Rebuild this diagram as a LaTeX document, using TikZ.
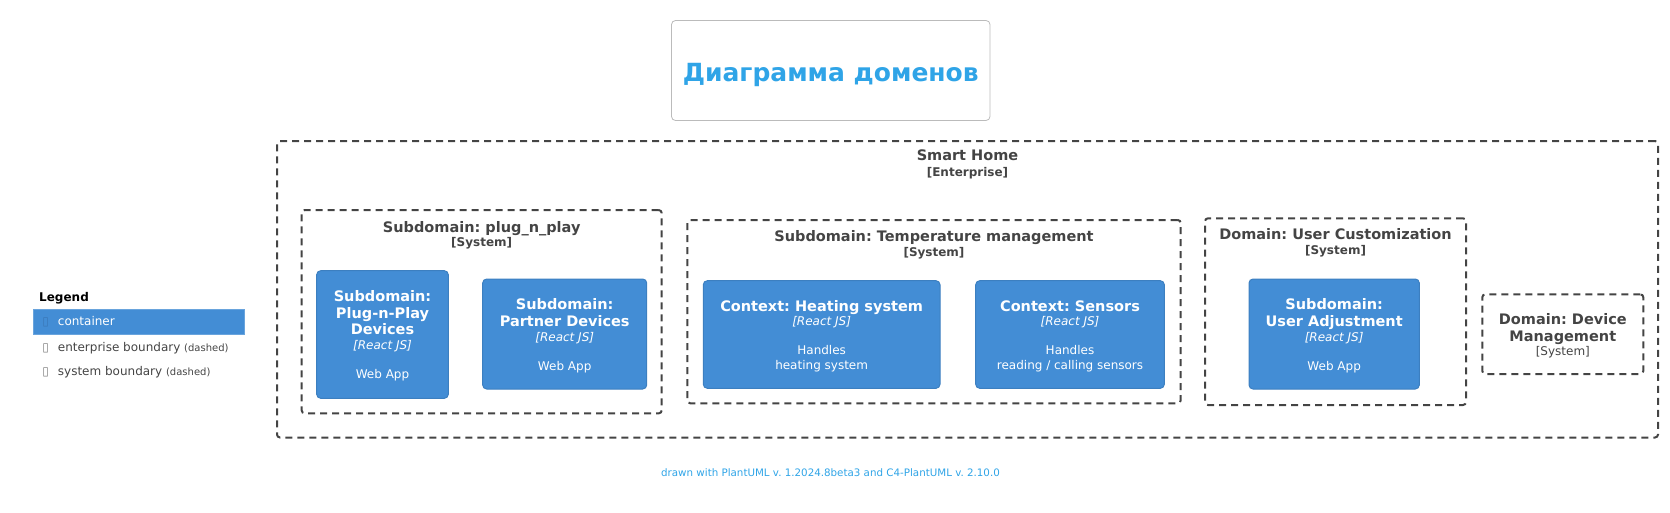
\documentclass[tikz,border=0pt]{standalone}
\usepackage{fontspec}
\setmainfont{DejaVu Sans}
\definecolor{contfill}{HTML}{438DD5}
\definecolor{contdraw}{HTML}{3C7FC0}
\definecolor{bndc}{HTML}{444444}
\definecolor{titleblue}{HTML}{2FA4E7}
\definecolor{tbox}{HTML}{BBBBBB}
\definecolor{glyphc}{HTML}{3A78B8}
\begin{document}
\frenchspacing
\begin{tikzpicture}[x=1pt,y=-1pt,
  bnd/.style={draw=bndc, line width=2pt, dash pattern=on 7pt off 5pt, rounded corners=3pt, inner sep=0pt, outer sep=0pt},
  cont/.style={draw=contdraw, fill=contfill, line width=1pt, rounded corners=4pt, inner sep=0pt, outer sep=0pt},
  nm/.style={font=\bfseries\fontsize{14.5}{17}\selectfont, anchor=base, inner sep=0pt},
  bndnm/.style={nm, text=bndc},
  cnm/.style={nm, text=white},
  ster/.style={font=\bfseries\fontsize{12}{14}\selectfont, anchor=base, inner sep=0pt, text=bndc},
  tech/.style={font=\itshape\fontsize{12}{14}\selectfont, anchor=base, inner sep=0pt, text=white},
  desc/.style={font=\fontsize{12}{14}\selectfont, anchor=base, inner sep=0pt, text=white},
  leg/.style={font=\fontsize{12}{14}\selectfont, anchor=base west, inner sep=0pt, text=bndc},
  glyph/.style={font=\fontsize{12}{14}\selectfont, anchor=base, inner sep=0pt, text=gray}
]
\useasboundingbox (0,0) rectangle (1670,512);

% title
\node[draw=tbox, line width=0.8pt, rounded corners=4pt, minimum width=318.5pt, minimum height=100pt, inner sep=0pt] (titlebox) at (830.75,70.5) {};
\node[font=\bfseries\fontsize{25}{29}\selectfont, text=titleblue, anchor=base, inner sep=0pt] (title) at (830.75,81) {Диаграмма доменов};

% enterprise boundary
\node[bnd, minimum width=1381pt, minimum height=296.5pt] (ent) at (967.5,289.25) {};
\node[bndnm] (entname) at (967.5,160.3) {Smart Home};
\node[ster] (entst) at (967.5,176) {[Enterprise]};

% plug_n_play
\node[bnd, minimum width=360pt, minimum height=203.3pt] (pnpb) at (481.7,311.7) {};
\node[bndnm] (pnpbname) at (481.7,232) {Subdomain: plug\_n\_play};
\node[ster] (pnpbst) at (481.7,246) {[System]};

\node[cont, minimum width=131.6pt, minimum height=127.6pt] (pnp) at (382.5,334.5) {};
\node[cnm] (pnp1) at (382.5,301) {Subdomain:};
\node[cnm] (pnp2) at (382.5,318) {Plug-n-Play};
\node[cnm] (pnp3) at (382.5,334.6) {Devices};
\node[tech] (pnp4) at (382.5,349.4) {[React JS]};
\node[desc] (pnp5) at (382.5,378.7) {Web App};

\node[cont, minimum width=164pt, minimum height=110pt] (partner) at (564.7,334) {};
\node[cnm] (par1) at (564.7,309.3) {Subdomain:};
\node[cnm] (par2) at (564.7,326.3) {Partner Devices};
\node[tech] (par3) at (564.7,341) {[React JS]};
\node[desc] (par4) at (564.7,370.4) {Web App};

% temperature
\node[bnd, minimum width=493.4pt, minimum height=183.3pt] (temp) at (934,311.65) {};
\node[bndnm] (tempname) at (934,241) {Subdomain: Temperature management};
\node[ster] (tempst) at (934,256) {[System]};

\node[cont, minimum width=236.7pt, minimum height=107.6pt] (heat) at (821.65,334.5) {};
\node[cnm] (heat1) at (821.65,311) {Context: Heating system};
\node[tech] (heat2) at (821.65,325.4) {[React JS]};
\node[desc] (heat3) at (821.65,354.4) {Handles};
\node[desc] (heat4) at (821.65,369.4) {heating system};

\node[cont, minimum width=188.6pt, minimum height=107.6pt] (sens) at (1070,334.5) {};
\node[cnm] (sens1) at (1070,311) {Context: Sensors};
\node[tech] (sens2) at (1070,325.4) {[React JS]};
\node[desc] (sens3) at (1070,354.4) {Handles};
\node[desc] (sens4) at (1070,369.4) {reading / calling sensors};

% user customization
\node[bnd, minimum width=261pt, minimum height=186.7pt] (ucust) at (1335.5,311.65) {};
\node[bndnm] (ucustname) at (1335.5,239.6) {Domain: User Customization};
\node[ster] (ucustst) at (1335.5,254.4) {[System]};

\node[cont, minimum width=170.3pt, minimum height=110pt] (uadj) at (1334.15,334) {};
\node[cnm] (uadj1) at (1334.15,309.6) {Subdomain:};
\node[cnm] (uadj2) at (1334.15,326.3) {User Adjustment};
\node[tech] (uadj3) at (1334.15,341.1) {[React JS]};
\node[desc] (uadj4) at (1334.15,370.1) {Web App};

% device management
\node[bnd, minimum width=161pt, minimum height=79.7pt] (devm) at (1562.8,334.15) {};
\node[bndnm] (devm1) at (1562.8,324.3) {Domain: Device};
\node[bndnm] (devm2) at (1562.8,341) {Management};
\node[font=\fontsize{12}{14}\selectfont, anchor=base, inner sep=0pt, text=bndc] (devm3) at (1562.8,355.7) {[System]};

% legend
\node[font=\bfseries\fontsize{12}{14}\selectfont, anchor=base west, inner sep=0pt, text=black] (legt) at (39,301) {Legend};
\node[fill=contfill, draw=contfill!80!white, line width=0.6pt, minimum width=211pt, minimum height=24.7pt, inner sep=0pt] (legc) at (138.8,321.65) {};
\node[glyph, text=glyphc] (legcg) at (45.7,325.5) {▯};
\node[leg, text=white] (legct) at (57.7,325.5) {container};
\node[glyph] (legeg) at (45.7,351) {▯};
\node[leg] (leget) at (57.7,351) {enterprise boundary {\fontsize{10}{12}\selectfont (dashed)}};
\node[glyph] (legsg) at (45.7,375.5) {▯};
\node[leg] (legst) at (57.7,375.5) {system boundary {\fontsize{10}{12}\selectfont (dashed)}};

% footer
\node[font=\fontsize{10.3}{12}\selectfont, text=titleblue, anchor=base, inner sep=0pt] (foot) at (830.5,476) {drawn with PlantUML v. 1.2024.8beta3 and C4-PlantUML v. 2.10.0};
\end{tikzpicture}
\end{document}
